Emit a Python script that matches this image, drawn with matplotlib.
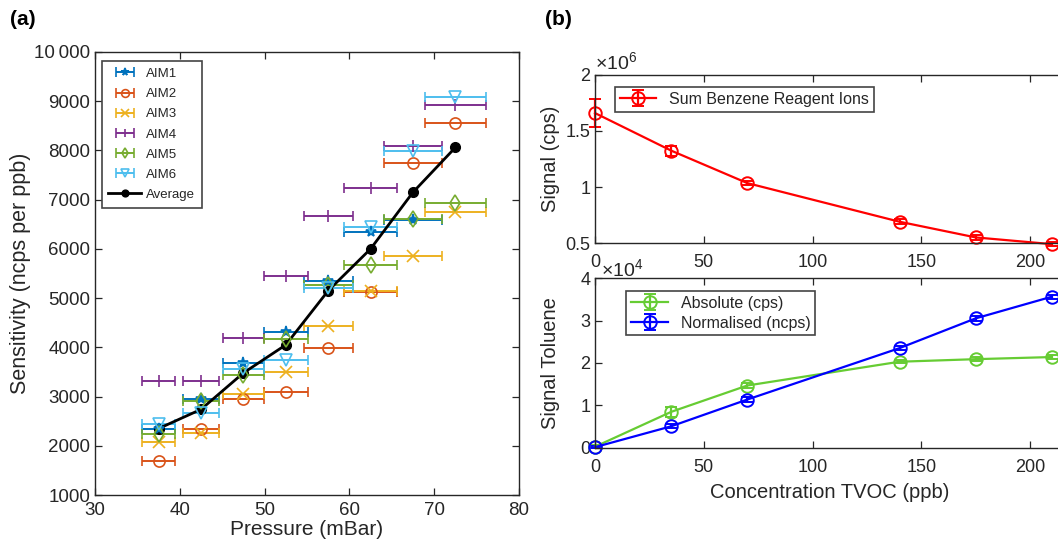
import numpy as np
import matplotlib
matplotlib.use("Agg")
import matplotlib.pyplot as plt
from matplotlib.ticker import FuncFormatter
from matplotlib.legend_handler import HandlerErrorbar
from matplotlib.container import ErrorbarContainer

plt.rcParams['font.family'] = ['Liberation Sans', 'DejaVu Sans']
plt.rcParams['mathtext.fontset'] = 'custom'
plt.rcParams['mathtext.rm'] = 'Liberation Sans'
plt.rcParams['mathtext.it'] = 'Liberation Sans'

# ---- panel (a) data ----
pressure = [37.5, 42.5, 47.5, 52.5, 57.5, 62.5, 67.5, 72.5]
pressure_err = [1.9, 2.1, 2.4, 2.6, 2.9, 3.1, 3.4, 3.6]
aim1 = [2340, 2960, 3690, 4310, 5350, 6350, 6590, np.nan]
aim2 = [1700, 2340, 2950, 3090, 3990, 5130, 7750, 8560]
aim3 = [2070, 2260, 3050, 3500, 4440, 5150, 5860, 6750]
aim4 = [3320, 3320, 4200, 5450, 6670, 7230, 8090, 8920]
aim5 = [2240, 2900, 3440, 4160, 5270, 5670, 6610, 6940]
aim6 = [2440, 2670, 3550, 3750, 5200, 6450, 7990, 9080]
average = [2350, 2740, 3480, 4050, 5150, 6000, 7150, 8060]

# ---- panel (b) data ----
tvoc = [0, 35, 70, 140, 175, 210]
benzene_ions = [1.66e6, 1.325e6, 1.035e6, 0.69e6, 0.55e6, 0.49e6]
benzene_err = [0.125e6, 0.045e6, 0.02e6, 0.02e6, 0.02e6, 0.02e6]
toluene_abs = [0.03e4, 0.85e4, 1.47e4, 2.03e4, 2.09e4, 2.14e4]
toluene_abs_err = [0.03e4, 0.12e4, 0.05e4, 0.04e4, 0.04e4, 0.04e4]
toluene_norm = [0.02e4, 0.51e4, 1.14e4, 2.35e4, 3.05e4, 3.56e4]
toluene_norm_err = [0.02e4, 0.05e4, 0.05e4, 0.05e4, 0.05e4, 0.05e4]

TXT = '#262626'
plt.rcParams['text.color'] = TXT
plt.rcParams['axes.labelcolor'] = TXT
plt.rcParams['xtick.color'] = TXT
plt.rcParams['ytick.color'] = TXT


def matlab_axes(ax, size=13.5, xpad=4):
    for s in ax.spines.values():
        s.set_color(TXT)
        s.set_linewidth(1.0)
    ax.tick_params(direction='in', top=True, right=True, length=5,
                   width=0.9, labelsize=size)
    ax.tick_params(axis='x', pad=xpad)


fig = plt.figure(figsize=(10.58, 5.45), dpi=100)

# ---------------- (a) ----------------
ax = fig.add_axes([0.0898, 0.0917, 0.4007, 0.8129])
series = [
    ('AIM1', aim1, '#0072BD', '*', True),
    ('AIM2', aim2, '#D95319', 'o', False),
    ('AIM3', aim3, '#EDB120', 'x', True),
    ('AIM4', aim4, '#7E2F8E', '|', True),
    ('AIM5', aim5, '#77AC30', 'd', False),
    ('AIM6', aim6, '#4DBEEE', 'v', False),
]
handles = []
for name, vals, col, mk, filled in series:
    h = ax.errorbar(pressure, vals, xerr=pressure_err, fmt=mk, color=col,
                    ecolor=col, markersize=8 if mk != '|' else 9,
                    markerfacecolor=col if filled else 'none',
                    markeredgecolor=col, markeredgewidth=1.2,
                    elinewidth=1.4, capsize=3.5, capthick=1.4, label=name)
    handles.append(h)
avg_line, = ax.plot(pressure, average, '-o', color='black', lw=2,
                    markersize=7, label='Average')
handles.append(avg_line)
ax.set_xlim(30, 80)
ax.set_ylim(1000, 10000)
ax.set_yticks(np.arange(1000, 10001, 1000))
ax.yaxis.set_major_formatter(FuncFormatter(
    lambda v, p: '10\u2009000' if v >= 10000 else '%d' % v))
matlab_axes(ax, 13.5, 5)
ax.set_xlabel('Pressure (mBar)', fontsize=15, labelpad=1)
ax.set_ylabel('Sensitivity (ncps per ppb)', fontsize=15.5)
ax.yaxis.set_label_coords(-0.15, 0.5)
leg = ax.legend(handles=handles, loc='upper left', fontsize=9.5,
                fancybox=False, edgecolor='#444444', framealpha=1,
                borderpad=0.5, labelspacing=0.6, handlelength=2.5,
                handletextpad=0.35, borderaxespad=0.2, markerscale=0.7,
                handler_map={ErrorbarContainer: HandlerErrorbar(xerr_size=0.7)},
                bbox_to_anchor=(0.01, 0.985))
leg.get_frame().set_linewidth(1.2)

# ---------------- (b) top ----------------
xmax = 216
w = xmax * 2.175 / 1058
ax1 = fig.add_axes([0.5624, 0.5541, w, 0.3083])
ax1.errorbar(tvoc, benzene_ions, yerr=benzene_err, fmt='-o', color='red',
             markerfacecolor='none', markersize=9, markeredgewidth=1.4,
             lw=1.6, capsize=4, capthick=1.6, clip_on=False,
             label='Sum Benzene Reagent Ions')
ax1.set_xlim(0, xmax)
ax1.set_ylim(0.5e6, 2e6)
ax1.set_xticks([0, 50, 100, 150, 200])
ax1.set_yticks([0.5e6, 1e6, 1.5e6, 2e6])
ax1.yaxis.set_major_formatter(FuncFormatter(lambda v, p: '%g' % (v / 1e6)))
matlab_axes(ax1, 13, 8)
ax1.text(0.0, 1.01, r'$\times10^{6}$', transform=ax1.transAxes,
         fontsize=14, ha='left', va='bottom', color=TXT)
ax1.set_ylabel('Signal (cps)', fontsize=14.5)
ax1.yaxis.set_label_coords(-0.075, 0.5)
leg1 = ax1.legend(loc='upper left', fontsize=11.5, fancybox=False,
                  edgecolor='#444444', framealpha=1, borderpad=0.3,
                  handlelength=2.3, bbox_to_anchor=(0.025, 0.975))
leg1.get_frame().set_linewidth(1.2)

# ---------------- (b) bottom ----------------
ax2 = fig.add_axes([0.5624, 0.178, w, 0.3119])
ax2.errorbar(tvoc, toluene_abs, yerr=toluene_abs_err, fmt='-o',
             color='#66CC33', markerfacecolor='none', markersize=9,
             markeredgewidth=1.4, lw=1.6, capsize=4, capthick=1.6,
             clip_on=False, label='Absolute (cps)')
ax2.errorbar(tvoc, toluene_norm, yerr=toluene_norm_err, fmt='-o',
             color='#0000FF', markerfacecolor='none', markersize=9,
             markeredgewidth=1.4, lw=1.6, capsize=4, capthick=1.6,
             clip_on=False, label='Normalised (ncps)')
ax2.set_xlim(0, xmax)
ax2.set_ylim(0, 4e4)
ax2.set_xticks([0, 50, 100, 150, 200])
ax2.set_yticks([0, 1e4, 2e4, 3e4, 4e4])
ax2.yaxis.set_major_formatter(FuncFormatter(lambda v, p: '%g' % (v / 1e4)))
matlab_axes(ax2, 13, 8)
ax2.text(0.012, 0.99, r'$\times10^{4}$', transform=ax2.transAxes,
         fontsize=14, ha='left', va='bottom', color=TXT)
ax2.set_ylabel('Signal Toluene', fontsize=14.5)
ax2.yaxis.set_label_coords(-0.075, 0.5)
ax2.set_xlabel('Concentration TVOC (ppb)', fontsize=14.5, labelpad=5)
leg2 = ax2.legend(loc='upper left', fontsize=11.5, fancybox=False,
                  edgecolor='#444444', framealpha=1, borderpad=0.3,
                  labelspacing=0.3, handlelength=2.3,
                  bbox_to_anchor=(0.05, 0.97))
leg2.get_frame().set_linewidth(1.2)

fig.text(0.009, 0.955, '(a)', fontsize=15, fontweight='bold', color='black')
fig.text(0.515, 0.955, '(b)', fontsize=15, fontweight='bold', color='black')

fig.savefig('out.png', dpi=100)
